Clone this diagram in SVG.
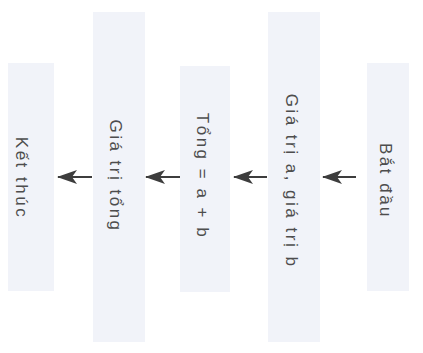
<svg xmlns="http://www.w3.org/2000/svg" width="423" height="353" viewBox="0 0 423 353">
<style>
.box{fill:#f1f3f9;stroke:none}
.lbl{font-family:"Liberation Sans",Arial,sans-serif;font-size:17px;fill:#4d4d4d;letter-spacing:2.5px;text-anchor:middle;dominant-baseline:central}
.edge{stroke:#3d3d3d;stroke-width:2;fill:none}
</style>
<defs>
<marker id="ah" markerWidth="20" markerHeight="14" refX="19" refY="7" orient="auto" markerUnits="userSpaceOnUse" viewBox="0 0 20 14"><path d="M0,0 L20,7 L0,14 L5,7 Z" fill="#3d3d3d"/></marker>
</defs>
<rect width="423" height="353" fill="#ffffff"/>
<g id="n1"><rect class="box" x="367" y="63" width="42" height="228"/><text class="lbl" transform="translate(385,181) rotate(90)">Bắt đầu</text></g>
<g id="n2"><rect class="box" x="268" y="12" width="52" height="330"/><text class="lbl" transform="translate(291,181) rotate(90)">Giá trị a, giá trị b</text></g>
<g id="n3"><rect class="box" x="180" y="66" width="50" height="226"/><text class="lbl" transform="translate(202,176) rotate(90)">Tổng = a + b</text></g>
<g id="n4"><rect class="box" x="93" y="12" width="52" height="330"/><text class="lbl" transform="translate(115,176) rotate(90)">Giá trị tổng</text></g>
<g id="n5"><rect class="box" x="8" y="63" width="46" height="228"/><text class="lbl" transform="translate(21,178) rotate(90)">Kết thúc</text></g>
<g id="edges">
<path class="edge" d="M356,177 H323" marker-end="url(#ah)"/>
<path class="edge" d="M267,177 H234" marker-end="url(#ah)"/>
<path class="edge" d="M180,177 H146" marker-end="url(#ah)"/>
<path class="edge" d="M92,177 H58" marker-end="url(#ah)"/>
</g>
</svg>
